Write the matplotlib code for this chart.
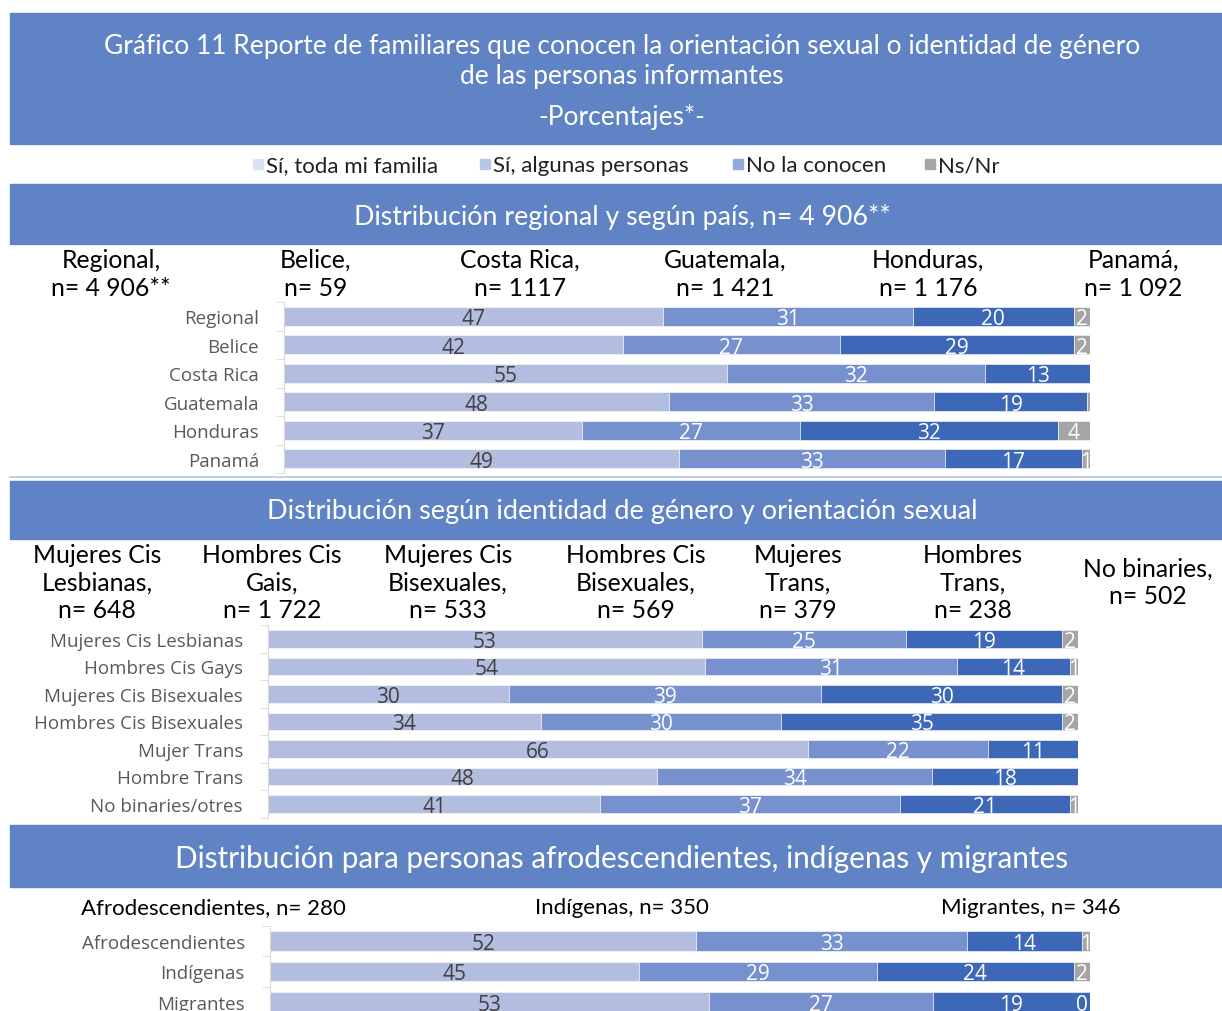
import matplotlib
matplotlib.use('Agg')
import matplotlib.pyplot as plt
from matplotlib.patches import Rectangle
import numpy as np

W, H = 1222, 1012

# Colours
BANNER = '#5F83C4'
C_TODA = '#B3BDDF'
C_ALG = '#7790CE'
C_NO = '#3D67B7'
C_NS = '#A5A5A5'
LEG_COLORS = ['#DAE3F3', '#B4C7E7', '#8FAADC', '#A5A5A5']

SERIES = ['Sí, toda mi familia', 'Sí, algunas personas', 'No la conocen', 'Ns/Nr']

# Panel 1: regional y por país
p1_rows = ['Regional', 'Belice', 'Costa Rica', 'Guatemala', 'Honduras', 'Panamá']
p1_toda = [47, 42, 55, 48, 37, 49]
p1_alg = [31, 27, 32, 33, 27, 33]
p1_no = [20, 29, 13, 19, 32, 17]
p1_ns = [2, 2, 0, 0.4, 4, 1]
p1_ns_lbl = ['2', '2', '', '', '4', '1']
p1_heads = ['Regional,\nn= 4 906**', 'Belice,\nn= 59', 'Costa Rica,\nn= 1117',
            'Guatemala,\nn= 1 421', 'Honduras,\nn= 1 176', 'Panamá,\nn= 1 092']

# Panel 2: identidad de género y orientación sexual
p2_rows = ['Mujeres Cis Lesbianas', 'Hombres Cis Gays', 'Mujeres Cis Bisexuales',
           'Hombres Cis Bisexuales', 'Mujer Trans', 'Hombre Trans', 'No binaries/otres']
p2_toda = [53, 54, 30, 34, 66, 48, 41]
p2_alg = [25, 31, 39, 30, 22, 34, 37]
p2_no = [19, 14, 30, 35, 11, 18, 21]
p2_ns = [2, 1, 2, 2, 0, 0, 1]
p2_ns_lbl = ['2', '1', '2', '2', '', '', '1']
p2_heads = ['Mujeres Cis\nLesbianas,\nn= 648', 'Hombres Cis\nGais,\nn= 1 722',
            'Mujeres Cis\nBisexuales,\nn= 533', 'Hombres Cis\nBisexuales,\nn= 569',
            'Mujeres\nTrans,\nn= 379', 'Hombres\nTrans,\nn= 238', 'No binaries,\nn= 502']

# Panel 3: afrodescendientes, indígenas y migrantes
p3_rows = ['Afrodescendientes', 'Indígenas', 'Migrantes']
p3_toda = [52, 45, 53]
p3_alg = [33, 29, 27]
p3_no = [14, 24, 19]
p3_ns = [1, 2, 0]
p3_ns_lbl = ['1', '2', '0']
p3_heads = ['Afrodescendientes, n= 280', 'Indígenas, n= 350', 'Migrantes, n= 346']

HEAD_FONT = ['Lato', 'DejaVu Sans']
BAR_FONT = ['Liberation Sans Narrow', 'Open Sans', 'DejaVu Sans']

fig = plt.figure(figsize=(W / 100, H / 100), dpi=100)
bg = fig.add_axes([0, 0, 1, 1])
bg.set_xlim(0, W)
bg.set_ylim(H, 0)
bg.axis('off')


def banner(y0, y1, lines, size):
    bg.add_patch(Rectangle((10, y0), W - 10, y1 - y0, color=BANNER, zorder=0))
    for txt, y in lines:
        bg.text(622, y, txt, ha='center', va='center', color='white',
                fontsize=size, family=HEAD_FONT)


def header(x, ymid, txt, size=17.8, gap=27.5):
    lines = txt.split('\n')
    y0 = ymid - gap * (len(lines) - 1) / 2
    for j, line in enumerate(lines):
        bg.text(x, y0 + j * gap, line, ha='center', va='center', fontsize=size,
                family=HEAD_FONT, color='black')


banner(14, 145, [('Gráfico 11 Reporte de familiares que conocen la orientación sexual o identidad de género', 46),
                 ('de las personas informantes', 76),
                 ('-Porcentajes*-', 117)], 19)

# legend
leg_x = [253, 480, 733, 925]
for lx, name, col in zip(leg_x, SERIES, LEG_COLORS):
    bg.add_patch(Rectangle((lx, 160), 10, 10, color=col))
    bg.text(lx + 13, 166, name, ha='left', va='center', fontsize=16,
            family=HEAD_FONT, color='#202020')

banner(185, 245, [('Distribución regional y según país, n= 4 906**', 217)], 19.3)
banner(482, 540, [('Distribución según identidad de género y orientación sexual', 512)], 19.5)
banner(826, 888, [('Distribución para personas afrodescendientes, indígenas y migrantes', 859)], 21.4)
bg.plot([10, W], [478, 478], color='#B4C7E7', lw=1.2)

# column headers
for x, t in zip([111, 316, 520, 725, 928, 1133], p1_heads):
    header(x, 274, t, gap=28)
for x, t in zip([97, 272, 448, 636, 798, 973, 1148], p2_heads):
    header(x, 583, t)
for x, t in zip([213, 622, 1031], p3_heads):
    header(x, 908, t, size=16)


def panel(x0, x1, ytop, step, rows, toda, alg, no, ns, ns_lbl):
    n = len(rows)
    y1 = ytop + n * step
    ax = fig.add_axes([x0 / W, 1 - y1 / H, (x1 - x0) / W, (y1 - ytop) / H])
    vals = np.array([toda, alg, no, ns], dtype=float)
    widths = vals / vals.sum(axis=0) * 100
    ypos = np.arange(n)
    left = np.zeros(n)
    cols = [C_TODA, C_ALG, C_NO, C_NS]
    for k in range(4):
        ax.barh(ypos, widths[k], left=left, height=0.65, color=cols[k],
                edgecolor='white', linewidth=0.4)
        for i in range(n):
            if k < 3:
                lbl = f'{vals[k, i]:.0f}'
            else:
                lbl = ns_lbl[i]
            if not lbl:
                continue
            if widths[k, i] < 0.5:
                ax.text(left[i] - 0.3, ypos[i] + 0.08, lbl, ha='right', va='center',
                        fontsize=15, family=BAR_FONT, color='white')
            else:
                ax.text(left[i] + widths[k, i] / 2, ypos[i] + 0.08, lbl,
                        ha='center', va='center', fontsize=15, family=BAR_FONT,
                        color='#404040' if k == 0 else 'white')
        left += widths[k]
    ax.set_xlim(0, 100)
    ax.set_ylim(n - 0.5, -0.5)
    ax.set_yticks(ypos)
    ax.set_yticklabels(rows, fontsize=13.5, family=BAR_FONT, color='#595959')
    ax.set_yticks(np.arange(n + 1) - 0.5, minor=True)
    ax.tick_params(axis='y', which='major', length=0, pad=18)
    ax.tick_params(axis='y', which='minor', length=6, color='#D9D9D9')
    ax.set_xticks([])
    for s in ['top', 'right', 'bottom']:
        ax.spines[s].set_visible(False)
    ax.spines['left'].set_color('#D9D9D9')
    ax.patch.set_alpha(0)
    return ax


panel(284, 1090, 303, 28.5, p1_rows, p1_toda, p1_alg, p1_no, p1_ns, p1_ns_lbl)
panel(268, 1078, 626.25, 27.5, p2_rows, p2_toda, p2_alg, p2_no, p2_ns, p2_ns_lbl)
panel(270, 1090, 926.75, 30.5, p3_rows, p3_toda, p3_alg, p3_no, p3_ns, p3_ns_lbl)

fig.savefig('out.png', dpi=100)
